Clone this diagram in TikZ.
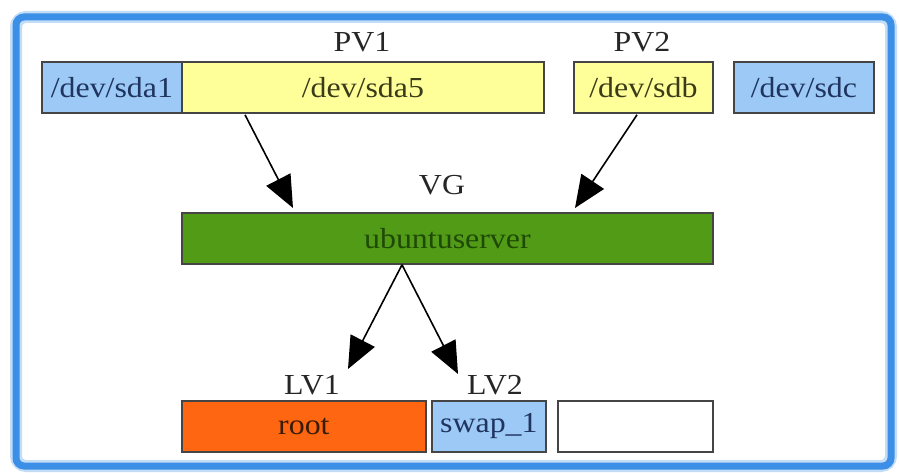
\documentclass[tikz,border=0pt]{standalone}
\usepackage{fontspec}
\setmainfont{Liberation Serif}[FakeStretch=1.1]
\usetikzlibrary{arrows.meta,calc}
\definecolor{bluebox}{HTML}{9DC9F6}
\definecolor{yellowbox}{HTML}{FFFF99}
\definecolor{greenbox}{HTML}{519B17}
\definecolor{orangebox}{HTML}{FF6611}
\definecolor{frameblue}{HTML}{3B8FE6}
\definecolor{edge}{HTML}{454545}
\definecolor{navytext}{HTML}{1F3560}
\definecolor{olivetext}{HTML}{3B3B1A}
\definecolor{greentext}{HTML}{1E4A05}
\definecolor{browntext}{HTML}{3A1C05}
\begin{document}
\begin{tikzpicture}[x=1pt,y=-1pt,
  box/.style={draw=edge, line width=1.8pt, anchor=north west, inner sep=0pt,
    minimum height=51pt, font=\fontsize{29}{33}\selectfont},
  lbl/.style={font=\fontsize{29}{33}\selectfont, text=black!85, inner sep=0pt},
  arr/.style={line width=1.6pt, -{Triangle[length=32pt,width=27pt]}}]
\useasboundingbox (0,0) rectangle (899,473);
\fill[white] (0,0) rectangle (899,473);
\draw[frameblue!60, line width=12pt, rounded corners=10pt, opacity=0.5] (16,17) rectangle (891,466);
\draw[frameblue, line width=7pt, rounded corners=8pt] (16,17) rectangle (891,466);

% top row
\node[box, fill=bluebox, minimum width=140pt, text=navytext] (sda1) at (41,61) {/dev/sda1};
\node[box, fill=yellowbox, minimum width=362pt, text=olivetext] (sda5) at (181,61) {/dev/sda5};
\node[box, fill=yellowbox, minimum width=139pt, text=olivetext] (sdb) at (573,61) {/dev/sdb};
\node[box, fill=bluebox, minimum width=140pt, text=navytext] (sdc) at (733,61) {/dev/sdc};
\node[lbl] (pv1) at (362,42) {PV1};
\node[lbl] (pv2) at (642,42) {PV2};

% VG
\node[lbl] (vglbl) at (442,185) {VG};
\node[box, fill=greenbox, minimum width=531pt, text=greentext] (vg) at (181,212) {ubuntuserver};

% LVs
\node[lbl] (lv1) at (312,385) {LV1};
\node[lbl] (lv2) at (495,385) {LV2};
\node[box, fill=orangebox, minimum width=244pt, text=browntext] (root) at (181,400) {root};
\node[box, fill=bluebox, minimum width=114pt, text=navytext] (swap) at (431,400) {swap\_1};
\node[box, fill=white, minimum width=155pt] (free) at (557,400) {};

% connectors
\coordinate (vgbot) at ($(vg.south west)+(221,0)$);
\coordinate (lv1tip) at ($(lv1.center)+(36,-16)$);
\coordinate (lv2tip) at ($(lv2.center)+(-37,-11)$);
\draw[arr] ($(sda5.south west)+(64,1)$) -- ($(vg.north west)+(112,-4)$);
\draw[arr] ($(sdb.south west)+(64,1)$) -- ($(vg.north west)+(394,-4)$);
\draw[arr] (vgbot) -- (lv1tip);
\draw[arr] (vgbot) -- (lv2tip);
\end{tikzpicture}
\end{document}
